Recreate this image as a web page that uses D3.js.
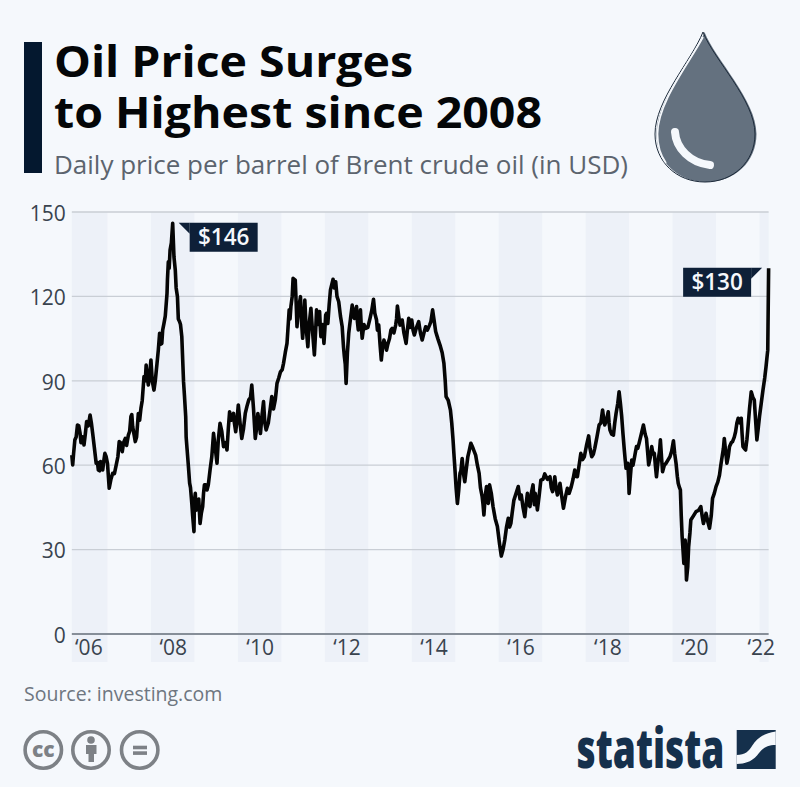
<!DOCTYPE html>
<html>
<head>
<meta charset="utf-8">
<script src="https://cdn.jsdelivr.net/npm/d3@7"></script>
<style>
  html, body { margin: 0; padding: 0; background: #f5f8fc; }
  text { font-family: "Open Sans", sans-serif; }
  .axis text { fill: #39434e; font-size: 21px; font-family: "Open Sans", sans-serif; }
  .axis path { display: none; }
</style>
</head>
<body>
<svg id="chart" width="800" height="787"></svg>
<script>
// years run as offset from 2006
var years = [
  0.18,0.20,0.25,0.31,0.37,0.41,0.46,0.52,0.60,0.66,0.74,0.79,0.84,0.89,0.94,1.00,1.04,1.12,1.21,1.27,
  1.34,1.41,1.48,1.54,1.58,1.64,1.71,1.77,1.84,1.89,1.94,2.00,2.07,2.14,2.20,2.25,2.30,2.37,2.40,2.44,
  2.50,2.56,2.61,2.66,2.71,2.75,2.80,2.83,2.89,2.94,2.99,3.02,3.07,3.13,3.19,3.23,3.29,3.36,3.44,3.52,
  3.59,3.67,3.75,3.81,3.90,3.95,4.01,4.09,4.17,4.25,4.32,4.40,4.46,4.52,4.59,4.65,4.75,4.78,4.86,4.90,
  4.98,5.05,5.13,5.18,5.22,5.27,5.32,5.36,5.44,5.49,5.54,5.61,5.68,5.76,5.81,5.88,5.91,5.98,6.02,6.07,
  6.13,6.19,6.25,6.32,6.40,6.45,6.49,6.55,6.63,6.68,6.73,6.77,6.82,6.86,6.94,7.04,7.12,7.19,7.24,7.30,
  7.36,7.42,7.49,7.55,7.63,7.67,7.73,7.78,7.87,7.93,8.00,8.06,8.16,8.24,8.32,8.41,8.48,8.55,8.65,8.74,
  8.79,8.89,8.95,8.99,9.05,9.11,9.16,9.22,9.29,9.36,9.47,9.55,9.62,9.66,9.72,9.76,9.79,9.87,9.97,10.06,
  10.14,10.22,10.28,10.35,10.45,10.52,10.60,10.66,10.72,10.79,10.84,10.89,10.97,11.06,11.18,11.24,11.29,11.35,11.41,11.49,
  11.58,11.67,11.75,11.81,11.89,11.97,12.07,12.14,12.21,12.31,12.39,12.44,12.52,12.56,12.64,12.70,12.77,12.83,12.89,12.93,
  12.97,13.00,13.06,13.12,13.17,13.23,13.33,13.40,13.45,13.52,13.58,13.63,13.67,13.72,13.77,13.85,13.94,14.02,14.08,14.13,
  14.18,14.22,14.26,14.29,14.32,14.37,14.42,14.54,14.65,14.71,14.77,14.85,14.92,15.00,15.08,15.14,15.19,15.25,15.31,15.38,
  15.45,15.51,15.58,15.62,15.68,15.73,15.81,15.88,15.94,16.00,16.08,16.15,16.19,16.21
];
var prices = [
  63.6,60.1,69,74.3,71.3,70.1,67.2,75.5,77.8,71.3,60.7,58.3,61.3,58.3,64.2,60.7,51.8,57.1,60.7,68.4,
  64.8,69.5,70.7,77.3,73.7,68.4,78.4,80.2,91.5,95.6,88.5,97.4,86.7,96.2,106.9,103.3,110.4,121.1,132.3,136.5,
  146,129.4,119.9,111,105.7,89.7,77.3,66,53.6,46.4,36.4,50,45.3,39.3,45.3,53,51.2,58.3,71.3,60.7,
  74.9,66.6,65.4,79,78.4,71.9,81.4,69.5,78.4,83.2,88.5,69.5,78.4,71.3,82.6,72.5,80.8,84.4,83.2,89.1,
  93.2,96.2,103.3,115.2,116.4,126.4,125.8,109.2,119.9,105.1,118.7,102.1,115.8,99.2,115.2,114.6,105.7,103.3,113.4,110.4,
  122.3,126.1,125.2,118.1,109.2,98.6,89.1,106.9,116.9,112.2,116.4,108.1,115.2,105.1,108.6,112.2,119,111.6,109.8,97.4,
  104.5,100.9,105.1,108.6,109.8,116.6,109.8,111.6,103.3,112.2,111.6,106.3,111,104.5,109.2,109.8,115.2,107.5,102.7,96.2,
  84.4,79.6,69,59.5,46.4,57.1,62.4,54.1,63,67.8,63.6,57.1,48.8,42.3,52.4,46.4,53,45.3,38.2,27.7,
  33.4,41.1,39.3,47.6,52.4,49.4,41.7,50,45.3,53,50,44.1,54.7,56.9,55.9,50.6,55.9,49.4,53.6,44.7,
  51.8,52.4,58.3,55.9,64.2,63,70.4,63,66,74.3,79.6,74.3,79,72.5,70.7,78.4,86.1,77.3,65.4,58.9,
  60.7,50,61.8,62.4,66.6,67.8,74.3,69.5,60.1,66.6,64.2,55.9,61.8,69,57.7,60.7,63,68.7,60.7,53.6,
  51.2,34.6,25.1,33.4,19.2,31,40.5,43.5,45.3,39.3,42.9,37.6,48.2,52.4,56.5,63,69.5,60.7,66.6,68.4,
  71.9,76.7,76.7,66.6,65.4,72.5,86.1,83.2,69,77.3,86.7,95,100.9,130
];
// second pass over the picture, the smaller wiggles between the points above
var fineYears = [
  0.22,0.28,0.34,0.39,0.44,0.49,0.56,0.63,0.70,0.77,0.82,0.87,0.92,0.97,1.08,1.16,1.24,1.30,1.37,1.44,
  1.51,1.56,1.61,1.67,1.74,1.80,1.87,1.91,1.97,2.03,2.10,2.17,2.22,2.27,2.33,2.38,2.42,2.47,2.53,2.58,
  2.63,2.68,2.77,2.81,2.86,2.91,2.96,3.00,3.04,3.10,3.16,3.21,3.26,3.32,3.40,3.48,3.55,3.63,3.71,3.78,
  3.85,3.92,3.98,4.05,4.13,4.21,4.29,4.36,4.43,4.49,4.55,4.62,4.70,4.82,4.88,4.94,5.02,5.09,5.15,5.20,
  5.25,5.34,5.38,5.46,5.52,5.57,5.64,5.72,5.79,5.84,5.90,5.95,6.00,6.04,6.10,6.22,6.28,6.36,6.43,6.47,
  6.52,6.59,6.65,6.70,6.75,6.80,6.84,6.90,6.99,7.08,7.15,7.21,7.27,7.33,7.39,7.45,7.52,7.59,7.65,7.70,
  7.75,7.82,7.90,7.96,8.03,8.11,8.20,8.28,8.36,8.44,8.51,8.60,8.70,8.77,8.84,8.92,8.97,9.02,9.08,9.13,
  9.19,9.25,9.32,9.41,9.51,9.58,9.64,9.69,9.74,9.83,9.92,10.02,10.10,10.18,10.25,10.31,10.40,10.49,10.56,10.63,
  10.69,10.75,10.82,10.87,10.93,11.02,11.12,11.21,11.27,11.32,11.38,11.45,11.54,11.62,11.71,11.78,11.85,11.93,12.02,12.10,
  12.18,12.26,12.35,12.42,12.48,12.54,12.60,12.67,12.74,12.80,12.86,12.91,12.95,12.99,13.03,13.09,13.15,13.20,13.28,13.37,
  13.43,13.49,13.55,13.61,13.65,13.70,13.75,13.81,13.90,13.98,14.05,14.11,14.16,14.20,14.24,14.28,14.31,14.35,14.40,14.48,
  14.60,14.68,14.74,14.81,14.89,14.96,15.04,15.11,15.17,15.22,15.28,15.35,15.42,15.48,15.55,15.60,15.65,15.71,15.77,15.85,
  15.91,15.97,16.04,16.12,16.17
];
var finePrices = [
  64,70,74,68,70,71,74,75,66,61,58,60,62,63,55,57,63,68,68,67,
  72,78,71,70,76,83,90,92,92,90,90,101,103,108,113,126,130,139,134,123,
  112,110,85,70,60,52,42,47,44,48,43,50,53,53,63,66,69,72,68,73,
  76,75,76,75,73,81,84,80,73,75,77,75,75,80,86,91,94,100,108,112,
  120,118,114,112,112,109,110,107,108,110,108,110,108,114,117,123,120,113,102,96,
  100,112,113,115,111,111,109,110,109,115,114,108,103,102,103,103,108,107,112,113,
  110,107,108,109,108,109,107,107,108,111,112,105,100,90,83,75,64,52,51,58,
  57,58,65,66,60,52,46,49,48,50,41,32,30,38,38,43,50,48,45,46,
  46,50,46,47,49,55,55,52,53,52,51,49,49,50,55,56,60,62,67,66,
  64,70,75,76,76,75,71,75,82,82,71,62,59,55,56,60,65,66,71,71,
  64,63,64,59,59,65,62,60,62,65,64,56,52,42,30,28,25,24,36,42,
  44,42,41,40,42,50,54,60,66,65,63,68,70,75,75,71,66,69,80,84,
  76,73,82,91,98
];
var yTicks = [0, 30, 60, 90, 120, 150];
var bandYears = [0, 2, 4, 6, 8, 10, 12, 14, 16];
var xTickYears = [0.56, 2.5, 4.5, 6.5, 8.5, 10.5, 12.5, 14.5, 16.03];
var xTickLabels = ["‘06", "‘08", "‘10", "‘12", "‘14", "‘16", "‘18", "‘20", "‘22"];

var navy = "#0e2038";
var grey = "#7d8186";
var svg = d3.select("#chart");

var x = d3.scaleLinear().domain([0, 16]).range([64, 759.5]);
var y = d3.scaleLinear().domain([0, 150]).range([634, 212]);

var series = years.map((d, i) => [d, prices[i]])
  .concat(fineYears.map((d, i) => [d, finePrices[i]]))
  .sort((a, b) => d3.ascending(a[0], b[0]));
var xStart = x(years[0]);
var xEnd = x(years[years.length - 1]);

svg.append("rect").attr("width", 800).attr("height", 787).attr("fill", "#f5f8fc");

// header
svg.append("rect").attr("x", 24).attr("y", 42).attr("width", 18).attr("height", 131).attr("fill", "#04182f");
svg.append("text").attr("x", 54).attr("y", 76.5).attr("font-size", 43).attr("font-weight", 700)
  .attr("fill", "#040608").attr("textLength", 359).attr("lengthAdjust", "spacingAndGlyphs").text("Oil Price Surges");
svg.append("text").attr("x", 54).attr("y", 128).attr("font-size", 43).attr("font-weight", 700)
  .attr("fill", "#040608").attr("textLength", 488).attr("lengthAdjust", "spacingAndGlyphs").text("to Highest since 2008");
svg.append("text").attr("x", 54).attr("y", 174).attr("font-size", 25).attr("fill", "#5c646e")
  .attr("textLength", 574).attr("lengthAdjust", "spacingAndGlyphs").text("Daily price per barrel of Brent crude oil (in USD)");

// oil drop
var dropPath = "M703,32 C714,60 755,100 755,134 C755,162 733,182 705,182 C677,182 655,162 655,134 C655,100 692,60 703,32 Z";
var drop = svg.append("g");
drop.append("path").attr("d", dropPath).attr("fill", "#64717f").attr("transform", "translate(1.5,0)");
drop.append("path").attr("d", dropPath).attr("fill", "none").attr("stroke", "#1c2a3a").attr("stroke-width", 1);
drop.append("path")
  .attr("d", "M703,37 C690,62 657.5,102 657.5,134 C657.5,146 661,156 666,163")
  .attr("fill", "none").attr("stroke", "#f5f8fc").attr("stroke-width", 1.7);
drop.append("path")
  .attr("d", "M675,132 C676,148 690,163 710,165")
  .attr("fill", "none").attr("stroke", "#f5f8fc").attr("stroke-width", 8).attr("stroke-linecap", "round");

// year bands
svg.append("g").selectAll("rect").data(bandYears).join("rect")
  .attr("x", d => Math.max(x(d), xStart))
  .attr("y", 212)
  .attr("width", d => Math.min(x(d + 1), xEnd) - Math.max(x(d), xStart))
  .attr("height", 450)
  .attr("fill", "#edf1f8");

// axes
svg.append("g").attr("class", "axis")
  .attr("transform", "translate(" + xStart + ",1.5)")
  .call(d3.axisLeft(y).tickValues(yTicks).tickSize(0).tickPadding(6));
svg.append("g").selectAll("line").data(yTicks).join("line")
  .attr("x1", xStart).attr("x2", xEnd)
  .attr("y1", d => y(d)).attr("y2", d => y(d))
  .attr("stroke", d => d === 0 ? "#868e98" : "#c9ced5")
  .attr("stroke-width", d => d === 0 ? 2 : 1.3);

svg.append("g").attr("class", "axis")
  .attr("transform", "translate(0,634)")
  .call(d3.axisBottom(x).tickValues(xTickYears).tickFormat((d, i) => xTickLabels[i]).tickSize(0).tickPadding(6));

// price line
var line = d3.line().x(d => x(d[0])).y(d => y(d[1]));
svg.append("path").datum(series)
  .attr("d", line)
  .attr("fill", "none")
  .attr("stroke", "#050505")
  .attr("stroke-width", 3.6)
  .attr("stroke-linejoin", "round");

// callouts
function callout(year, price, offset, side, label) {
  var boxX = x(year) + offset;
  var boxY = y(price) - 0.5;
  var edge = side > 0 ? boxX : boxX + 68;
  var g = svg.append("g");
  g.append("path")
    .attr("d", "M" + (edge - side * 11) + "," + boxY + "L" + edge + "," + boxY + "L" + edge + "," + (boxY + 11) + "Z")
    .attr("fill", navy);
  g.append("rect").attr("x", boxX).attr("y", boxY).attr("width", 68).attr("height", 29).attr("fill", navy);
  g.append("text").attr("x", boxX + 34).attr("y", boxY + 22).attr("text-anchor", "middle")
    .attr("font-size", 22.5).attr("font-weight", 600).attr("fill", "#f5f8fc").text(label);
}
callout(2.5, 146, 17, 1, "$146");
callout(16.21, 130, -85.5, -1, "$130");

// source
svg.append("text").attr("x", 24).attr("y", 701).attr("font-size", 19.5).attr("fill", "#6e7680").text("Source: investing.com");

// licence icons
var cc = svg.append("g").attr("fill", "none").attr("stroke", grey);
[43.3, 91, 139.7].forEach(function (cx) {
  cc.append("circle").attr("cx", cx).attr("cy", 750).attr("r", 18.2).attr("stroke-width", 3.6);
});
svg.append("text").attr("x", 43.3).attr("y", 757).attr("text-anchor", "middle").attr("font-size", 21)
  .attr("font-weight", 800).attr("fill", grey).text("cc");
svg.append("circle").attr("cx", 91).attr("cy", 740).attr("r", 3.8).attr("fill", grey);
svg.append("path").attr("d", "M86,745 H96.5 V754 H94 V762 H88.5 V754 H86 Z").attr("fill", grey);
svg.append("rect").attr("x", 133).attr("y", 745.7).attr("width", 14).attr("height", 3.6).attr("fill", grey);
svg.append("rect").attr("x", 133).attr("y", 751.3).attr("width", 14).attr("height", 3.6).attr("fill", grey);

// statista logo
svg.append("text").attr("x", 576.5).attr("y", 768).attr("font-size", 55).attr("font-weight", 800).attr("fill", "#15304c")
  .attr("textLength", 148).attr("lengthAdjust", "spacingAndGlyphs").text("statista");
svg.append("rect").attr("x", 736.7).attr("y", 730).attr("width", 39).attr("height", 39).attr("fill", "#15304c");
svg.append("path")
  .attr("d", "M775.7,731.5 C764,733 757,738 752,746 C749,751 745,755 736.7,755 L736.7,764 C747,764 754,760 759,753 C763,748 767,745 775.7,745 Z")
  .attr("fill", "#f5f8fc");
</script>
</body>
</html>
